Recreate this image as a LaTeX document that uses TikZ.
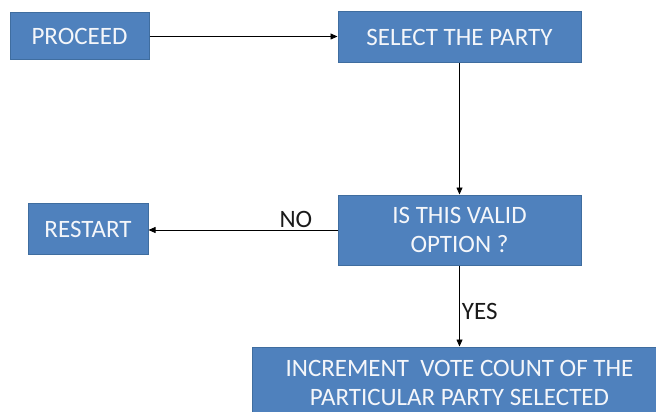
\documentclass[tikz,border=0pt]{standalone}
\usepackage{fontspec}
\setmainfont{Carlito}
\usetikzlibrary{arrows.meta}
\definecolor{boxfill}{HTML}{4F81BD}
\definecolor{boxline}{HTML}{3F6D9F}
\definecolor{boxtext}{HTML}{F4F6FA}
\definecolor{lbl}{HTML}{1A1A1A}
\tikzset{
  flowbox/.style={draw=boxline, line width=1pt, fill=boxfill, text=boxtext,
    inner sep=0pt, align=center, font=\fontsize{25}{29}\selectfont},
  flowarrow/.style={draw=black, line width=0.8pt, -{Triangle[length=7pt,width=6pt]}},
  flowlabel/.style={text=lbl, font=\fontsize{25}{29}\selectfont, inner sep=2pt}
}
\begin{document}
\begin{tikzpicture}[x=1pt,y=-1pt]
\useasboundingbox (0,0) rectangle (656,412);
\node[flowbox, minimum width=139pt, minimum height=47pt] (proceed) at (79.5,36.5) {PROCEED};
\node[flowbox, minimum width=243pt, minimum height=51pt] (select) at (459.5,37.5) {SELECT THE PARTY};
\node[flowbox, minimum width=120pt, minimum height=51pt] (restart) at (88,229) {RESTART};
\node[flowbox, minimum width=243pt, minimum height=70pt] (valid) at (459.5,230) {IS THIS VALID\\OPTION ?};
\node[flowbox, minimum width=415pt, minimum height=72pt] (increment) at (459.5,383) {INCREMENT~~VOTE COUNT OF THE\\PARTICULAR PARTY SELECTED};
\draw[flowarrow] (proceed.east) -- (proceed.east -| select.west);
\draw[flowarrow] (select.south) -- (valid.north);
\draw[flowarrow] (valid.west) -- node[flowlabel, pos=0.22, above] (no) {NO} (valid.west -| restart.east);
\draw[flowarrow] (valid.south) -- node[flowlabel, pos=0.57, right] (yes) {YES} (increment.north);
\end{tikzpicture}
\end{document}
